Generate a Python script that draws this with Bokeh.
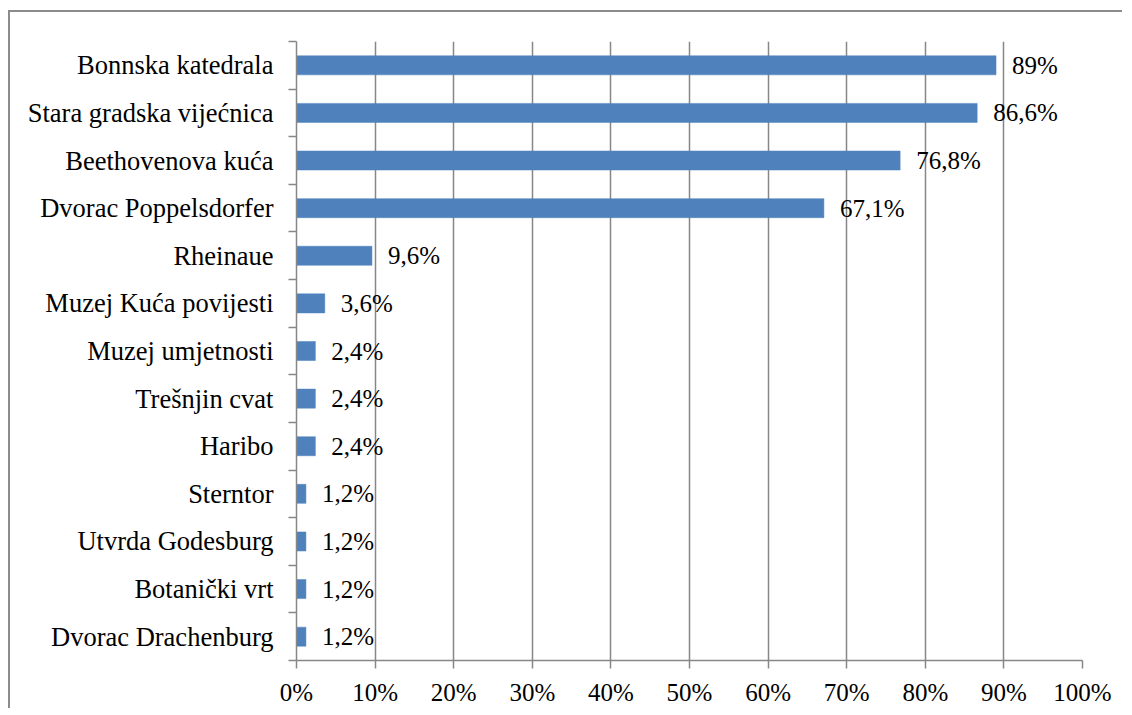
from bokeh.plotting import figure
from bokeh.models import ColumnDataSource, FixedTicker, LabelSet
from bokeh.embed import file_html
from bokeh.resources import INLINE

categories = ["Bonnska katedrala", "Stara gradska vijećnica", "Beethovenova kuća",
              "Dvorac Poppelsdorfer", "Rheinaue", "Muzej Kuća povijesti",
              "Muzej umjetnosti", "Trešnjin cvat", "Haribo", "Sterntor",
              "Utvrda Godesburg", "Botanički vrt", "Dvorac Drachenburg"]
values = [89, 86.6, 76.8, 67.1, 9.6, 3.6, 2.4, 2.4, 2.4, 1.2, 1.2, 1.2, 1.2]
labels = ["89%", "86,6%", "76,8%", "67,1%", "9,6%", "3,6%", "2,4%", "2,4%",
          "2,4%", "1,2%", "1,2%", "1,2%", "1,2%"]
x_ticks = list(range(0, 101, 10))

n = len(categories)
ypos = [n - i - 0.5 for i in range(n)]
src = ColumnDataSource(dict(y=ypos, v=values, lab=labels, cat=categories))

FONT = "Liberation Serif"
GRID = "#878787"

p = figure(output_backend="svg", toolbar_location=None,
           x_range=(0, 100), y_range=(0, n),
           frame_width=786, frame_height=619,
           min_border_left=286, min_border_right=40,
           min_border_top=29, min_border_bottom=40,
           background_fill_color="white", border_fill_color="white")
p.outline_line_color = None
p.styles = {"border-top": "2px solid #8c8c8c", "border-left": "2px solid #8c8c8c",
            "margin-left": "8px", "margin-top": "10px"}

p.hbar(y="y", right="v", left=0, height=0.4, source=src,
       fill_color="#4F81BD", line_color="#4F81BD", line_width=0.5)

p.add_layout(LabelSet(x="v", y="y", text="lab", source=src, x_offset=16,
                      text_baseline="middle", text_align="left",
                      text_font=FONT, text_font_size="25px", text_color="black"))

# x axis
p.xaxis.ticker = FixedTicker(ticks=x_ticks)
p.xaxis.major_label_overrides = {t: f"{t}%" for t in x_ticks}
p.xaxis.major_tick_out = 8
p.xaxis.major_tick_in = 0
p.xaxis.minor_tick_line_color = None
p.xaxis.axis_line_color = GRID
p.xaxis.axis_line_width = 1.5
p.xaxis.major_tick_line_color = GRID
p.xaxis.major_tick_line_width = 1.5
p.xaxis.major_label_text_font = FONT
p.xaxis.major_label_text_font_size = "25px"
p.xaxis.major_label_text_color = "black"
p.xaxis.major_label_standoff = 10

# y axis
p.yaxis.ticker = FixedTicker(ticks=ypos, minor_ticks=list(range(0, n + 1)))
p.yaxis.major_label_overrides = {y: c for y, c in zip(ypos, categories)}
p.yaxis.major_tick_out = 0
p.yaxis.major_tick_in = 0
p.yaxis.minor_tick_out = 8
p.yaxis.minor_tick_in = 0
p.yaxis.minor_tick_line_color = GRID
p.yaxis.minor_tick_line_width = 1.5
p.yaxis.axis_line_color = GRID
p.yaxis.axis_line_width = 1.5
p.yaxis.major_label_text_font = FONT
p.yaxis.major_label_text_font_size = "26.5px"
p.yaxis.major_label_text_color = "black"
p.yaxis.major_label_standoff = 15

p.xgrid.ticker = FixedTicker(ticks=x_ticks)
p.xgrid.grid_line_color = GRID
p.xgrid.grid_line_width = 1.5
p.ygrid.grid_line_color = None

open("out.html", "w").write(file_html(p, INLINE))
